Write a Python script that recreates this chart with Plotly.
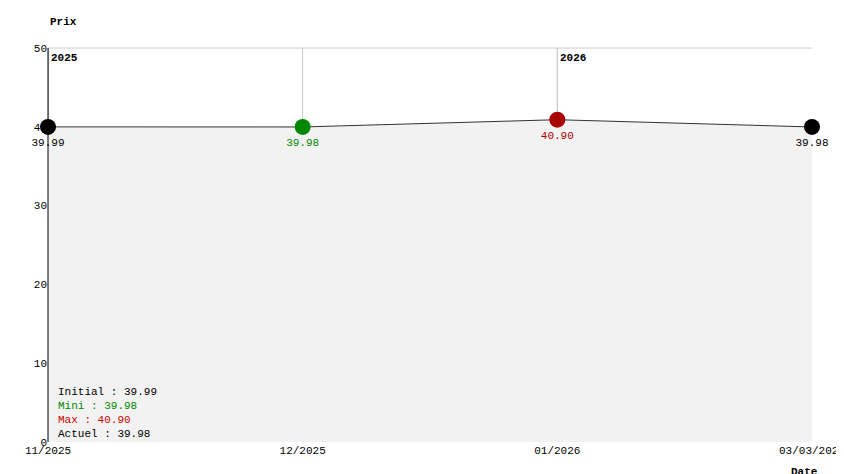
import plotly.graph_objects as go

dates = ["11/2025", "12/2025", "01/2026", "03/03/2026"]
prices = [39.99, 39.98, 40.90, 39.98]
point_colors = ["#000000", "#008800", "#aa0000", "#000000"]
year_labels = [(0, "2025"), (2, "2026")]
summary = [("Initial : 39.99", "#000000"), ("Mini : 39.98", "#008800"),
           ("Max : 40.90", "#cc0000"), ("Actuel : 39.98", "#000000")]

FONT = "Liberation Mono"
x = list(range(len(dates)))

fig = go.Figure()
fig.add_trace(go.Scatter(
    x=x, y=prices, mode="lines", fill="tozeroy", fillcolor="#f2f2f2",
    line=dict(color="#333333", width=1), hoverinfo="skip"))
fig.add_trace(go.Scatter(
    x=x, y=prices, mode="markers+text", cliponaxis=False,
    marker=dict(color=point_colors, size=16),
    text=[f"{p:.2f}" for p in prices], textposition="bottom center",
    textfont=dict(color=point_colors, size=11, family=FONT)))

for xi, label in year_labels:
    fig.add_shape(type="line", x0=xi, x1=xi, y0=0, y1=50, line=dict(color="#888888", width=1), layer="below")
    fig.add_annotation(x=xi, y=50, text=f"<b>{label}</b>", showarrow=False,
                       xanchor="left", yanchor="top", xshift=1, yshift=-2,
                       font=dict(size=11, family=FONT, color="black"))

fig.add_annotation(xref="paper", yref="paper", x=0, y=1, text="<b>Prix</b>", showarrow=False,
                   xanchor="left", yanchor="bottom", yshift=18, font=dict(size=11, family=FONT))
fig.add_annotation(xref="paper", yref="paper", x=1, y=0, text="<b>Date</b>", showarrow=False,
                   xanchor="right", yanchor="top", yshift=-22, xshift=8, font=dict(size=11, family=FONT))

for i, (txt, col) in enumerate(summary):
    fig.add_annotation(xref="paper", yref="paper", x=0.01, y=0, text=txt, showarrow=False,
                       xanchor="left", yanchor="bottom", yshift=(3 - i) * 14,
                       font=dict(size=11, family=FONT, color=col))

fig.update_layout(
    width=844, height=474, showlegend=False,
    plot_bgcolor="white", paper_bgcolor="white",
    margin=dict(l=40, r=40, t=40, b=40, autoexpand=False),
    font=dict(family=FONT, size=11, color="black"),
    xaxis=dict(range=[0, 3], tickvals=x, ticktext=dates, showgrid=True, gridcolor="#cccccc",
               zeroline=False, showline=False, ticks="", automargin=False,
               tickfont=dict(color="black")),
    yaxis=dict(range=[0, 50], tickvals=[0, 10, 20, 30, 40, 50], showgrid=False,
               zeroline=False, showline=False, ticks="", automargin=False,
               tickfont=dict(color="black")),
)
fig.add_shape(type="line", xref="paper", yref="paper", x0=0, x1=1, y0=1, y1=1,
              line=dict(color="#cccccc", width=1))
fig.add_shape(type="line", xref="paper", yref="paper", x0=0, x1=0, y0=0, y1=1,
              line=dict(color="#000000", width=1))
fig.write_html("out.html")
